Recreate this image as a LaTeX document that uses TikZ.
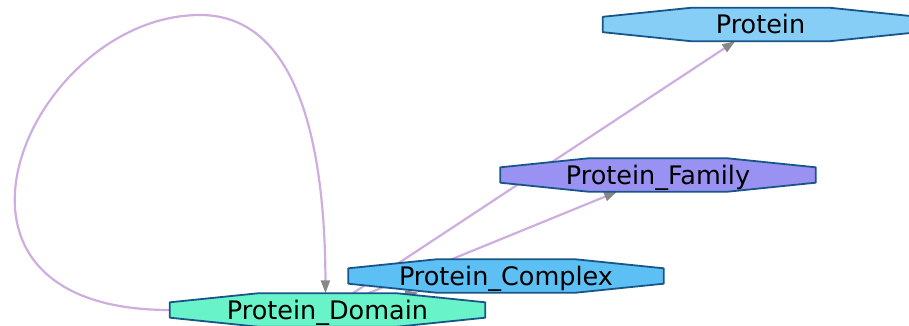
\documentclass[tikz,border=0pt]{standalone}
\usepackage{fontspec}
\setmainfont{DejaVu Sans}
\usetikzlibrary{positioning, calc, arrows.meta}
\definecolor{protcol}{RGB}{135,206,247}
\definecolor{famcol}{RGB}{153,146,243}
\definecolor{cplxcol}{RGB}{92,192,244}
\definecolor{domcol}{RGB}{104,243,201}
\definecolor{rimcol}{RGB}{24,86,138}
\definecolor{linkcol}{RGB}{206,174,222}
\definecolor{tipcol}{RGB}{136,136,136}
\tikzstyle{entity} = [rectangle, minimum width=315pt, minimum height=33pt, inner sep=0pt, text height=18pt, text depth=0pt, font=\fontsize{25.5}{30}\selectfont]
\tikzstyle{octa} = [draw=rimcol, line width=1.8pt, line join=round]
\tikzstyle{link} = [draw=linkcol, line width=2.2pt, -{Triangle[length=13pt,width=9pt,color=tipcol]}]
\pgfdeclarelayer{edgelayer}
\pgfdeclarelayer{shapelayer}
\pgfsetlayers{edgelayer,shapelayer,main}

\begin{document}
\begin{tikzpicture}[x=1pt, y=-1pt, on grid]
\useasboundingbox (0,0) rectangle (909,326);

% Nodes
\node (dom) [entity] at (327.5,310) {Protein\_Domain};
\node (cplx) [entity, above right=34pt and 178.5pt of dom] {Protein\_Complex};
\node (fam) [entity, above right=101pt and 152pt of cplx] {Protein\_Family};
\node (prot) [entity, above right=150.5pt and 102.5pt of fam] {Protein};
\coordinate (looptop) at (200,15);

% Outlines
\begin{pgfonlayer}{shapelayer}
\foreach \n/\c in {prot/protcol, fam/famcol, cplx/cplxcol, dom/domcol}
  \draw [octa, fill=\c] ($(\n.north west)+(0,9)$) -- ($(\n.north west)+(88,0)$)
    -- ($(\n.north east)+(-88,0)$) -- ($(\n.north east)+(0,9)$)
    -- ($(\n.south east)+(0,-9)$) -- ($(\n.south east)+(-88,0)$)
    -- ($(\n.south west)+(88,0)$) -- ($(\n.south west)+(0,-9)$) -- cycle;
\end{pgfonlayer}

% Arrows
\begin{pgfonlayer}{edgelayer}
\draw [link] (dom.west) .. controls (-100,310) and (30,15) .. (looptop)
  .. controls (300,15) and (325,150) .. ($(dom.north)+(-2,0)$);
\draw [link] (dom) -- (prot);
\draw [link] (dom) -- (fam);
\draw [link] (dom) -- (cplx);
\end{pgfonlayer}

\end{tikzpicture}
\end{document}
